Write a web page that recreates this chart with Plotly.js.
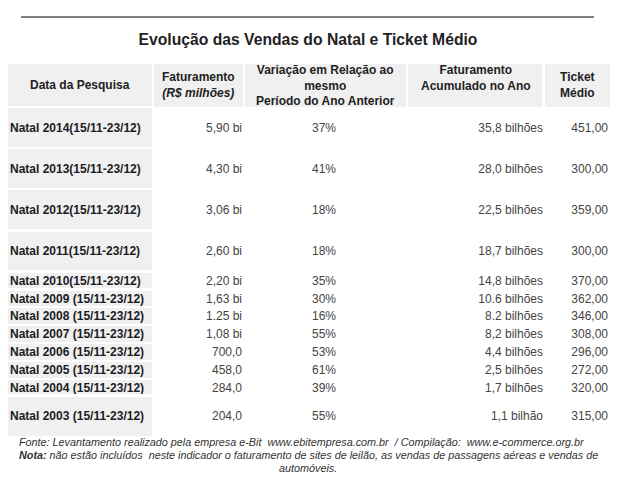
<!DOCTYPE html>
<html><head><meta charset="utf-8">
<script src="https://cdn.plot.ly/plotly-3.0.1.min.js"></script>
<style>html,body{margin:0;padding:0;background:#fff}#chart{width:628px;height:480px}</style>
</head><body><div id="chart"></div>
<script>
const chartTitle = 'Evolução das Vendas do Natal e Ticket Médio';
const headers = ['Data da Pesquisa', 'Faturamento<br><i>(R$ milhões)</i>', 'Variação em Relação ao<br>mesmo<br>Período do Ano Anterior', 'Faturamento<br>Acumulado no Ano', 'Ticket<br>Médio'];
const periods = ['Natal 2014(15/11-23/12)', 'Natal 2013(15/11-23/12)', 'Natal 2012(15/11-23/12)', 'Natal 2011(15/11-23/12)', 'Natal 2010(15/11-23/12)', 'Natal 2009 (15/11-23/12)', 'Natal 2008 (15/11-23/12)', 'Natal 2007 (15/11-23/12)', 'Natal 2006 (15/11-23/12)', 'Natal 2005 (15/11-23/12)', 'Natal 2004 (15/11-23/12)', 'Natal 2003 (15/11-23/12)'];
const faturamento = ['5,90 bi', '4,30 bi', '3,06 bi', '2,60 bi', '2,20 bi', '1,63 bi', '1.25 bi', '1,08 bi', '700,0', '458,0', '284,0', '204,0'];
const variacao = ['37%', '41%', '18%', '18%', '35%', '30%', '16%', '55%', '53%', '61%', '39%', '55%'];
const acumulado = ['35,8 bilhões', '28,0 bilhões', '22,5 bilhões', '18,7 bilhões', '14,8 bilhões', '10.6 bilhões', '8.2 bilhões', '8,2 bilhões', '4,4 bilhões', '2,5 bilhões', '1,7 bilhões', '1,1 bilhão'];
const ticket = ['451,00', '300,00', '359,00', '300,00', '370,00', '362,00', '346,00', '308,00', '296,00', '272,00', '320,00', '315,00'];
const notes = ['Fonte: Levantamento realizado pela empresa e-Bit  www.ebitempresa.com.br  / Compilação:  www.e-commerce.org.br', 'Nota: não estão incluídos  neste indicador o faturamento de sites de leilão, as vendas de passagens aéreas e vendas de', 'automóveis.'];

const W = 628, H = 480;
const FILL = '#f0f0f0';
const CLEAR = 'rgba(0,0,0,0)';
const FONT = 'Liberation Sans, Arial, sans-serif';
const fx = p => p / W, fy = p => 1 - p / H;
const EMPTY_HEADER = 16;
const GAP = 2.4;

const emptyHeader = {values: [], fill: {color: CLEAR}, line: {color: CLEAR, width: 0}};

const traces = [];
// header band fill
const headBounds = [6.8, 153, 244, 407, 544, 611.2];
const headWidths = headBounds.slice(1).map((b, i) => b - headBounds[i]);
traces.push({
  type: 'table',
  domain: {x: [fx(headBounds[0]), fx(headBounds[5])], y: [0, fy(63.1 - EMPTY_HEADER)]},
  columnwidth: headWidths,
  header: emptyHeader,
  cells: {values: headers.map(() => ['']), height: 44.8, fill: {color: FILL}, line: {color: '#fff', width: GAP}}
});

const sections = [
  {from: 0, to: 4, top: 107.1, h: 41.1, shift: 7.8},
  {from: 4, to: 11, top: 271.5, h: 17.88, shift: -3.8},
  {from: 11, to: 12, top: 395.5, h: 41.4, shift: 7}
];
const textBounds = [2, 170, 250, 398, 551, 616];
const textWidths = textBounds.slice(1).map((b, i) => b - textBounds[i]);
sections.forEach(s => {
  const rows = periods.slice(s.from, s.to);
  traces.push({
    type: 'table',
    domain: {x: [fx(6.8), fx(153.2)], y: [0, fy(s.top - EMPTY_HEADER)]},
    columnwidth: [1],
    header: emptyHeader,
    cells: {values: [rows.map(() => '')], height: s.h, fill: {color: FILL}, line: {color: '#fff', width: GAP}}
  });
  traces.push({
    type: 'table',
    domain: {x: [fx(textBounds[0]), fx(textBounds[5])], y: [0, fy(s.top - EMPTY_HEADER + s.shift)]},
    columnwidth: textWidths,
    header: emptyHeader,
    cells: {
      values: [
        rows,
        faturamento.slice(s.from, s.to),
        variacao.slice(s.from, s.to),
        acumulado.slice(s.from, s.to),
        ticket.slice(s.from, s.to)
      ],
      align: ['left', 'right', 'center', 'right', 'right'],
      height: s.h,
      font: {family: FONT, size: 12, weight: ['bold', 'normal', 'normal', 'normal', 'normal'], color: ['#1c1c24', '#444', '#444', '#444', '#444']},
      fill: {color: CLEAR},
      line: {color: CLEAR, width: 0}
    }
  });
});

const headY = [85, 84.7, 85, 78, 85.5];
const annotations = headers.map((h, i) => ({
  text: h.split('<br>').map(l => '<b>' + l + '</b>').join('<br>'),
  xref: 'paper', yref: 'paper',
  x: fx((headBounds[i] + headBounds[i + 1]) / 2), y: fy(headY[i]),
  xanchor: 'center', yanchor: 'middle', showarrow: false, align: 'center',
  font: {family: FONT, size: 12, color: '#222'}
}));
const noteX = [301.5, 308.5, 308];
const noteY = [442, 455, 467.5];
notes.forEach((n, i) => annotations.push({
  text: '<i>' + n.replace('Nota:', '<b>Nota:</b>') + '</i>',
  xref: 'paper', yref: 'paper', x: fx(noteX[i]), y: fy(noteY[i]),
  xanchor: 'center', yanchor: 'middle', showarrow: false, align: 'center',
  font: {family: FONT, size: 10.8, color: '#333'}
}));

const layout = {
  width: W, height: H,
  margin: {l: 0, r: 0, t: 0, b: 0},
  paper_bgcolor: '#fff',
  showlegend: false,
  title: {text: '<b>' + chartTitle + '</b>', xref: 'container', yref: 'container', x: fx(308), y: fy(40), xanchor: 'center', yanchor: 'middle', font: {family: FONT, size: 15.7, color: '#222'}},
  shapes: [{type: 'line', xref: 'paper', yref: 'paper', x0: fx(21), x1: fx(594), y0: fy(17), y1: fy(17), line: {color: '#555', width: 1.4}}],
  annotations: annotations
};
Plotly.newPlot('chart', traces, layout, {displayModeBar: false, staticPlot: true});
</script></body></html>
